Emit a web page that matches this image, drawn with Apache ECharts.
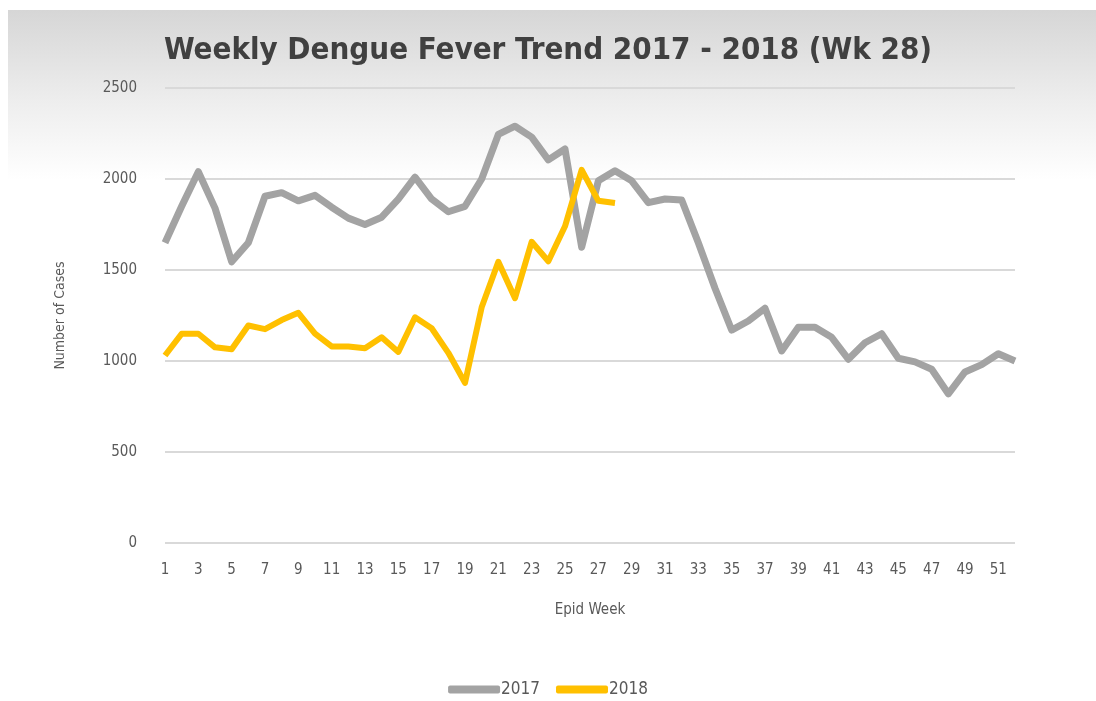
<!DOCTYPE html>
<html>
<head>
<meta charset="utf-8">
<script src="https://cdn.jsdelivr.net/npm/echarts@6/dist/echarts.min.js"></script>
<style>
  html, body { margin: 0; padding: 0; background: #fff; }
  #dengue-trend { width: 1096px; height: 701px; }
</style>
</head>
<body>
<div id="dengue-trend"></div>
<script>
// epid weeks 1..52
const weeks = ['1','2','3','4','5','6','7','8','9','10','11','12','13','14','15','16','17','18','19','20',
  '21','22','23','24','25','26','27','28','29','30','31','32','33','34','35','36','37','38','39','40',
  '41','42','43','44','45','46','47','48','49','50','51','52'];

const cases2017 = [1650, 1850, 2040, 1840, 1545, 1650, 1905, 1925, 1880, 1910,
  1845, 1785, 1750, 1790, 1890, 2010, 1890, 1820, 1850, 2000,
  2245, 2290, 2230, 2105, 2165, 1625, 1990, 2045, 1990, 1870,
  1890, 1885, 1650, 1400, 1170, 1220, 1290, 1055, 1185, 1185,
  1130, 1010, 1100, 1150, 1015, 995, 955, 820, 940, 980,
  1040, 1000];

const cases2018 = [1030, 1150, 1150, 1075, 1065, 1195, 1175, 1225, 1265, 1150,
  1080, 1080, 1070, 1130, 1050, 1240, 1180, 1045, 880, 1295,
  1545, 1345, 1655, 1548, 1740, 2050, 1880, 1868];

const yTicks = [0, 500, 1000, 1500, 2000, 2500];

let myChart = echarts.init(document.getElementById('dengue-trend'));
const txt = '#595959';
const narrow = '"Liberation Sans Narrow", "DejaVu Sans Condensed", sans-serif';

myChart.setOption({
  animation: false,
  graphic: [
    {
      type: 'rect',
      z: -10,
      shape: {x: 8, y: 10, width: 1088, height: 170},
      style: {
        fill: new echarts.graphic.LinearGradient(0, 0, 0, 1, [
          {offset: 0, color: '#d6d6d6'},
          {offset: 0.55, color: '#eeeeee'},
          {offset: 1, color: '#ffffff'}
        ])
      }
    }
  ],
  title: {
    text: 'Weekly Dengue Fever Trend 2017 - 2018 (Wk 28)',
    left: 'center',
    top: 30,
    textStyle: {
      fontFamily: narrow,
      fontSize: 31,
      fontWeight: 'bold',
      color: '#404040'
    }
  },
  legend: {
    bottom: -2,
    left: 'center',
    itemWidth: 52,
    itemHeight: 8,
    itemGap: 16,
    icon: 'roundRect',
    textStyle: {color: txt, fontFamily: narrow, fontSize: 17, padding: [0, 0, 0, -4]},
    data: ['2017', '2018']
  },
  grid: {
    left: 165,
    right: 81,
    top: 88,
    bottom: 158
  },
  xAxis: {
    type: 'category',
    data: weeks,
    boundaryGap: false,
    name: 'Epid Week',
    nameLocation: 'middle',
    nameGap: 60,
    nameTextStyle: {color: txt, fontFamily: narrow, fontSize: 15},
    axisLine: {show: false},
    axisTick: {show: false},
    axisLabel: {
      interval: 1,
      margin: 20,
      color: txt,
      fontFamily: narrow,
      fontSize: 15
    }
  },
  yAxis: {
    type: 'value',
    min: yTicks[0],
    max: yTicks[yTicks.length - 1],
    interval: 500,
    name: 'Number of Cases',
    nameLocation: 'middle',
    nameGap: 98,
    nameTextStyle: {color: txt, fontFamily: narrow, fontSize: 14},
    axisLine: {show: false},
    axisTick: {show: false},
    axisLabel: {
      margin: 28,
      color: txt,
      fontFamily: narrow,
      fontSize: 15,
      formatter: function (v) { return String(v); }
    },
    splitLine: {lineStyle: {color: '#d9d9d9', width: 2}}
  },
  series: [
    {
      name: '2017',
      type: 'line',
      data: cases2017,
      showSymbol: false,
      symbol: 'none',
      lineStyle: {color: '#a3a3a3', width: 7, join: 'round'},
      itemStyle: {color: '#a3a3a3'}
    },
    {
      name: '2018',
      type: 'line',
      data: cases2018,
      showSymbol: false,
      symbol: 'none',
      lineStyle: {color: '#ffc000', width: 6, join: 'round'},
      itemStyle: {color: '#ffc000'}
    }
  ]
});
</script>
</body>
</html>
